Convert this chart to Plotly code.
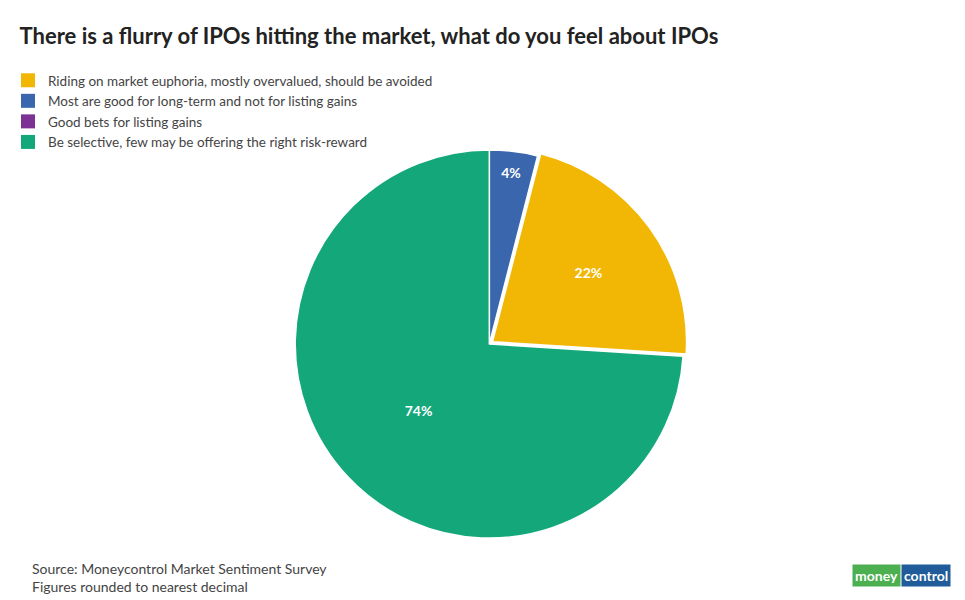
import plotly.graph_objects as go

labels = ["Most are good for long-term and not for listing gains",
          "Riding on market euphoria, mostly overvalued, should be avoided",
          "Good bets for listing gains",
          "Be selective, few may be offering the right risk-reward"]
values = [4, 22, 0, 74]
colors = ["#3a66ad", "#f2b705", "#7b3294", "#13a77a"]
legend_order = [1, 0, 2, 3]

fig = go.Figure()
fig.add_trace(go.Pie(labels=labels, values=values, sort=False, direction="clockwise",
                     rotation=0, marker=dict(colors=colors, line=dict(color="white", width=1.5)),
                     pull=[0, 0.02, 0, 0], texttemplate=["<b>4%</b>", "<b>22%</b>", "", "<b>74%</b>"],
                     textposition="inside", insidetextorientation="horizontal",
                     textfont=dict(color="white", size=14, family="Lato"),
                     showlegend=False, hoverinfo="label+percent",
                     domain=dict(x=[0.283, 0.703], y=[0.11, 0.77])))
for i in legend_order:
    fig.add_trace(go.Scatter(x=[None], y=[None], mode="markers", name=labels[i],
                             marker=dict(symbol="square", size=14, color=colors[i])))
fig.update_layout(
    width=965, height=600, paper_bgcolor="white", plot_bgcolor="white",
    margin=dict(l=0, r=0, t=0, b=0),
    font=dict(family="Lato", color="#333"),
    xaxis=dict(visible=False), yaxis=dict(visible=False),
    title=dict(text="<b>There is a flurry of IPOs hitting the market, what do you feel about IPOs</b>",
               x=0.012, xanchor="left", y=0.953, yanchor="middle", font=dict(size=22, color="#222")),
    legend=dict(x=-0.012, y=0.905, xanchor="left", yanchor="top", font=dict(size=13.5, color="#444"),
                itemwidth=30, tracegroupgap=0, bgcolor="rgba(0,0,0,0)"),
    annotations=[
        dict(text="Source: Moneycontrol Market Sentiment Survey<br>Figures rounded to nearest decimal",
             x=0.012, y=0.018, xref="paper", yref="paper", xanchor="left", yanchor="bottom",
             align="left", showarrow=False, font=dict(size=14, color="#444")),
        dict(text="<b><span style='color:white'>money</span></b>", x=0.925, y=0.035, xref="paper", yref="paper",
             xanchor="right", yanchor="bottom", showarrow=False, bgcolor="#4caf50",
             font=dict(size=14, family="Lato"), borderpad=2),
        dict(text="<b><span style='color:white'>control</span></b>", x=0.925, y=0.035, xref="paper", yref="paper",
             xanchor="left", yanchor="bottom", showarrow=False, bgcolor="#1f5c99",
             font=dict(size=14, family="Lato"), borderpad=2),
    ])
fig.write_html("out.html")
